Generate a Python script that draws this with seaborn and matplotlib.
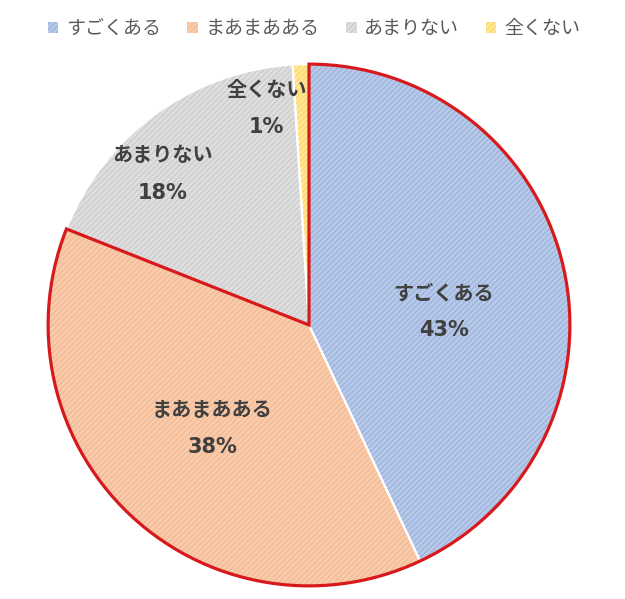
import numpy as np
import matplotlib.pyplot as plt
import seaborn as sns
from matplotlib.patches import Wedge, Patch

categories = ["すごくある", "まあまあある", "あまりない", "全くない"]
values = [43, 38, 18, 1]
base_colors = ["#b8c9e8", "#f8cbad", "#dedede", "#ffe699"]
hatch_colors = ["#8eaadb", "#f4b183", "#c4c4c4", "#ffd34d"]
highlight = 2  # first two slices outlined in red

# label placement: (radius, angle in degrees) relative to pie centre
label_pos = [(0.52, 6), (0.54, 226.7), (0.81, 134), (0.85, 101)]

sns.set_theme(style="white")
plt.rcParams['font.family'] = ['Noto Sans CJK JP', 'DejaVu Sans']
plt.rcParams['hatch.linewidth'] = 0.6

fig = plt.figure(figsize=(6.25, 5.99), dpi=100)
ax = fig.add_axes([0.072, 0.0167, 0.8448, 0.8815])

# base fill
wedges, _ = ax.pie(values, colors=base_colors, startangle=90, counterclock=False,
                   radius=1, wedgeprops=dict(linewidth=0))
# hatch overlay
hw, _ = ax.pie(values, colors=base_colors, startangle=90, counterclock=False,
               radius=1, wedgeprops=dict(linewidth=0))
for w, hc in zip(hw, hatch_colors):
    w.set_facecolor("none")
    w.set_edgecolor(hc)
    w.set_hatch("//////")
    w.set_linewidth(0)
# white separators
sw, _ = ax.pie(values, colors=base_colors, startangle=90, counterclock=False,
               radius=1, wedgeprops=dict(linewidth=1.5, edgecolor="white"))
for w in sw:
    w.set_facecolor("none")

# red outline around the highlighted group
frac = sum(values[:highlight]) / sum(values)
ax.add_patch(Wedge((0, 0), 1, 90 - 360 * frac, 90, fill=False,
                   edgecolor="#d7191c", linewidth=2.3, zorder=5))

for name, v, (r, a) in zip(categories, values, label_pos):
    x = r * np.cos(np.radians(a))
    y = r * np.sin(np.radians(a))
    ax.text(x, y + 0.07, name, ha="center", va="center", fontsize=14.5,
            fontweight="bold", color="#404040", zorder=6)
    ax.text(x, y - 0.075, f"{v}%", ha="center", va="center", fontsize=15,
            fontweight="bold", color="#404040", zorder=6,
            family=['DejaVu Sans'])

ax.set_xlim(-1.012, 1.012)
ax.set_ylim(-1.012, 1.012)
ax.set_aspect("equal")
ax.axis("off")

handles = [Patch(facecolor=b, edgecolor=h, hatch="//////", linewidth=0)
           for b, h in zip(base_colors, hatch_colors)]
fig.legend(handles, categories, loc="center", bbox_to_anchor=(0.502, 0.952),
           ncol=4, frameon=False, fontsize=13.7, handlelength=0.55, handleheight=0.55,
           handletextpad=0.4, columnspacing=1.4, labelcolor="#595959")

fig.savefig("out.png", dpi=100, facecolor="white")
